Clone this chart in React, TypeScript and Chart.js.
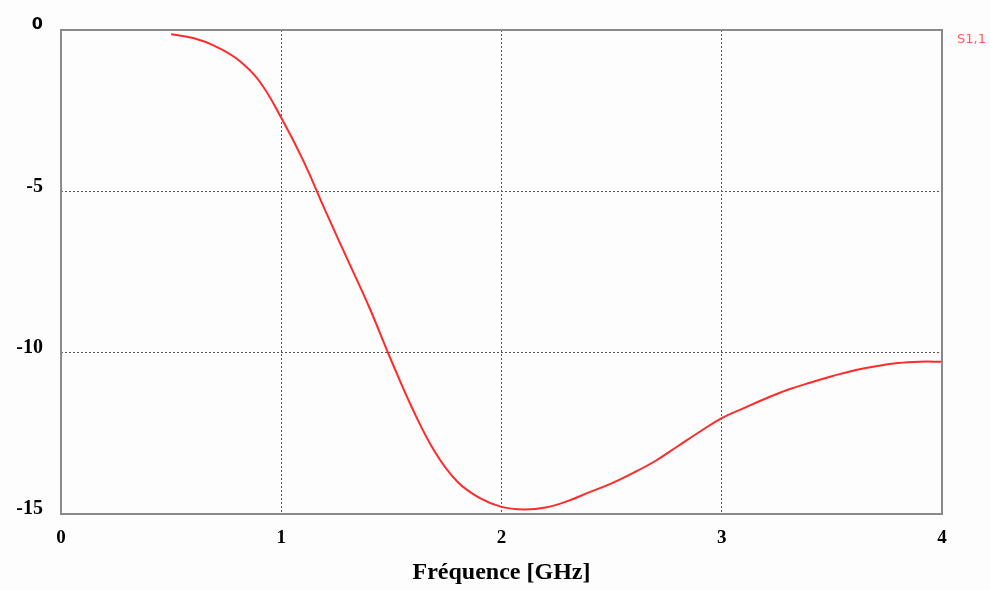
import React, { useEffect, useRef } from "react";
import { Chart, registerables } from "chart.js";

Chart.register(...registerables);

const freqGHz = [0.5, 0.6, 0.7, 0.8, 0.9, 1.0, 1.1, 1.2, 1.3, 1.4, 1.5, 1.6, 1.7, 1.8, 1.9, 2.0, 2.1, 2.2, 2.3, 2.4, 2.5, 2.6, 2.7, 2.8, 2.9, 3.0, 3.1, 3.2, 3.3, 3.4, 3.5, 3.6, 3.7, 3.8, 3.9, 4.0];
const s11dB = [-0.13, -0.25, -0.5, -0.9, -1.58, -2.72, -4.05, -5.6, -7.1, -8.6, -10.25, -11.8, -13.1, -14.0, -14.5, -14.78, -14.86, -14.8, -14.6, -14.32, -14.05, -13.72, -13.35, -12.9, -12.45, -12.03, -11.72, -11.42, -11.15, -10.93, -10.73, -10.55, -10.42, -10.32, -10.28, -10.28];
const xTicks = [0, 1, 2, 3, 4];
const yTicks = [0, -5, -10, -15];
const seriesLabel = "S1,1";
const xTitle = "Fréquence [GHz]";

export default function App() {
  const ref = useRef<HTMLCanvasElement>(null);
  useEffect(() => {
    if (!ref.current) return;
    const serif = "'Liberation Serif', 'DejaVu Serif', serif";
    const framePlugin = {
      id: "frame",
      beforeDraw(chart: any) {
        const ctx = chart.ctx;
        ctx.save();
        ctx.fillStyle = "#fdfdfd";
        ctx.fillRect(0, 0, chart.width, chart.height);
        ctx.restore();
      },
      afterDraw(chart: any) {
        const { ctx, chartArea } = chart;
        ctx.save();
        ctx.strokeStyle = "#8a8a8a";
        ctx.lineWidth = 2;
        ctx.strokeRect(chartArea.left, chartArea.top, chartArea.right - chartArea.left, chartArea.bottom - chartArea.top);
        ctx.fillStyle = "#ff5a5a";
        ctx.font = "13px 'DejaVu Sans', sans-serif";
        ctx.textAlign = "left";
        ctx.textBaseline = "middle";
        ctx.fillText(seriesLabel, chartArea.right + 15, chartArea.top + 10);
        ctx.restore();
      },
    };
    const gridColor = (c: any) => {
      const v = c.tick ? c.tick.value : 0;
      const s = c.scale;
      return v === s.min || v === s.max ? "rgba(0,0,0,0)" : "#555555";
    };
    const chart = new Chart(ref.current, {
      type: "line",
      data: {
        datasets: [
          {
            label: seriesLabel,
            data: freqGHz.map((x, i) => ({ x, y: s11dB[i] })),
            borderColor: "#ff2a2a",
            borderWidth: 2,
            pointRadius: 0,
            tension: 0.4,
            fill: false,
          },
        ],
      },
      options: {
        animation: false,
        responsive: true,
        maintainAspectRatio: false,
        layout: { padding: { top: 28, right: 48, left: 0, bottom: 0 } },
        plugins: { legend: { display: false }, tooltip: { enabled: false } },
        scales: {
          x: {
            type: "linear",
            min: 0,
            max: 4,
            afterBuildTicks: (s: any) => {
              s.ticks = xTicks.map((v) => ({ value: v }));
            },
            afterFit: (s: any) => {
              s.height = 76;
            },
            border: { display: false, dash: [2, 2] },
            grid: { color: gridColor, drawTicks: false },
            ticks: {
              padding: 13,
              color: "#000",
              font: { family: serif, size: 19, weight: "bold" },
            },
            title: {
              display: true,
              text: xTitle,
              color: "#000",
              font: { family: serif, size: 24, weight: "bold" },
              padding: { top: 0, bottom: 3 },
            },
          },
          y: {
            type: "linear",
            min: -15,
            max: 0,
            afterBuildTicks: (s: any) => {
              s.ticks = yTicks.map((v) => ({ value: v }));
            },
            afterFit: (s: any) => {
              s.width = 61;
            },
            border: { display: false, dash: [2, 2] },
            grid: { color: gridColor, drawTicks: false },
            ticks: {
              padding: 18,
              labelOffset: -5,
              color: "#000",
              font: (c: any) =>
                c.tick && c.tick.value === 0
                  ? { family: "'DejaVu Sans', sans-serif", size: 16, weight: "bold" }
                  : { family: serif, size: 20, weight: "bold" },
            },
          },
        },
      },
      plugins: [framePlugin],
    } as any);
    return () => chart.destroy();
  }, []);
  return (
    <div style={{ position: "absolute", left: 0, top: 0, width: 990, height: 590 }}>
      <canvas ref={ref} />
    </div>
  );
}
